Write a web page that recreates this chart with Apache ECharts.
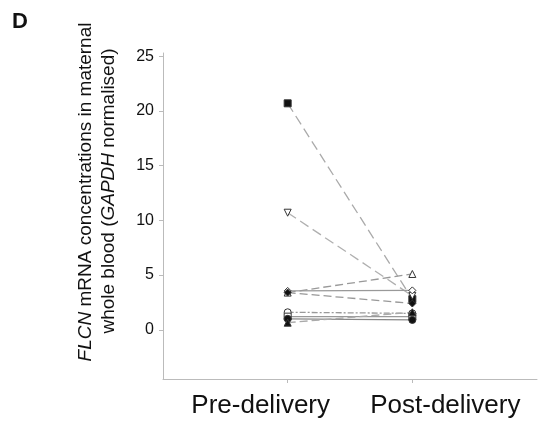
<!DOCTYPE html>
<html>
<head>
<meta charset="utf-8">
<script src="https://cdn.jsdelivr.net/npm/echarts@6/dist/echarts.min.js"></script>
<style>html,body{margin:0;padding:0;background:#fff;}#c{width:539px;height:427px;}</style>
</head>
<body>
<div id="c"></div>
<script>
var categories = ['Pre-delivery', 'Post-delivery'];
var categoryPositions = [1, 2];
var yTicks = [0, 5, 10, 15, 20, 25];
var preValues  = [20.7, 10.7, 3.4, 3.55, 3.4, 1.6, 1.2, 1.0, 0.65];
var postValues = [2.8, 3.1, 5.1, 3.6, 2.4, 1.5, 1.2, 0.9, 1.6];

var markerStyles = [
  {symbol: 'rect', fill: '#111', dash: [10, 5], lc: '#aaa'},
  {symbol: 'path://M0,0 L10,0 L5,10 Z', fill: '#fff', dash: [10, 5], lc: '#b0b0b0'},
  {symbol: 'triangle', fill: '#fff', dash: [8, 4], lc: '#999'},
  {symbol: 'diamond', fill: '#fff', dash: 'solid', lc: '#999'},
  {symbol: 'diamond', fill: '#111', dash: [8, 4], lc: '#999'},
  {symbol: 'circle', fill: '#fff', dash: [6, 2, 2, 2], lc: '#999'},
  {symbol: 'rect', fill: '#fff', dash: 'solid', lc: '#999'},
  {symbol: 'circle', fill: '#111', dash: 'solid', lc: '#888'},
  {symbol: 'triangle', fill: '#111', dash: [8, 4], lc: '#aaa'}
];

var series = preValues.map(function (v, i) {
  var s = markerStyles[i];
  return {
    type: 'line',
    data: [[categoryPositions[0], v], [categoryPositions[1], postValues[i]]],
    symbol: s.symbol,
    symbolSize: 7,
    showSymbol: true,
    animation: false,
    lineStyle: {color: s.lc, width: 1.3, type: s.dash},
    itemStyle: {color: s.fill, borderColor: '#333', borderWidth: 1, opacity: 1}
  };
});

var chart = echarts.init(document.getElementById('c'));
chart.setOption({
  backgroundColor: '#fff',
  animation: false,
  grid: {left: 163, right: 2, top: 53, bottom: 48, containLabel: false},
  xAxis: {
    type: 'value', min: 0, max: 3,
    splitLine: {show: false},
    axisLine: {show: true, onZero: false, lineStyle: {color: '#bbb', width: 1}},
    axisTick: {show: true, customValues: categoryPositions, length: 4, lineStyle: {color: '#bbb'}},
    axisLabel: {
      customValues: categoryPositions,
      formatter: function (v) {
        var i = categoryPositions.indexOf(v);
        if (i < 0) return '';
        return (i === 0 ? '{a|' : '{b|') + categories[i] + '}';
      },
      fontFamily: 'Liberation Sans, Arial, sans-serif', fontSize: 26, color: '#111', margin: 14,
      rich: {
        a: {fontSize: 26, fontFamily: 'Liberation Sans, Arial, sans-serif', color: '#111', padding: [0, 54, 0, 0]},
        b: {fontSize: 26, fontFamily: 'Liberation Sans, Arial, sans-serif', color: '#111', padding: [0, 0, 0, 66]}
      }
    }
  },
  yAxis: {
    type: 'value', min: -4.5, max: 25.3,
    splitLine: {show: false},
    axisLine: {show: true, onZero: false, lineStyle: {color: '#bbb', width: 1}},
    axisTick: {show: true, customValues: yTicks, length: 4, lineStyle: {color: '#bbb'}},
    axisLabel: {
      customValues: yTicks,
      fontFamily: 'Liberation Sans, Arial, sans-serif', fontSize: 16, color: '#111', margin: 9
    }
  },
  graphic: [
    {type: 'text', left: 12, top: 11, style: {text: 'D', font: 'bold 22px Liberation Sans, Arial, sans-serif', fill: '#111'}},
    {type: 'text', x: 86, y: 192, rotation: Math.PI / 2,
      style: {
        text: '{i|FLCN} mRNA concentrations in maternal',
        font: '19px Liberation Sans, Arial, sans-serif', fill: '#111',
        textAlign: 'center', textVerticalAlign: 'middle',
        rich: {i: {fontStyle: 'italic', fontSize: 19, fontFamily: 'Liberation Sans, Arial, sans-serif'}}
      }},
    {type: 'text', x: 109, y: 191, rotation: Math.PI / 2,
      style: {
        text: 'whole blood ({i|GAPDH} normalised)',
        font: '19px Liberation Sans, Arial, sans-serif', fill: '#111',
        textAlign: 'center', textVerticalAlign: 'middle',
        rich: {i: {fontStyle: 'italic', fontSize: 19, fontFamily: 'Liberation Sans, Arial, sans-serif'}}
      }}
  ],
  series: series
});
</script>
</body>
</html>
